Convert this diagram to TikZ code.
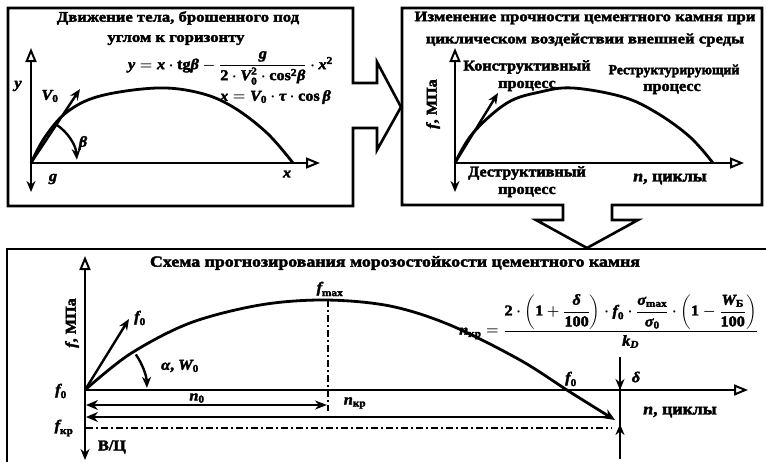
\documentclass[tikz,border=0pt]{standalone}
\usepackage{amsmath}
\usepackage{fontspec}
\setmainfont{Liberation Serif}[FakeStretch=1.08, BoldFeatures={FakeBold=2.5}, BoldItalicFeatures={FakeBold=2.5}]
\newfontfamily\headfont{Liberation Serif}[FakeStretch=1.15, BoldFeatures={FakeBold=2.5}]
\newfontfamily\narrowfont{Liberation Serif}[FakeStretch=0.98, BoldFeatures={FakeBold=2.5}]
\usetikzlibrary{arrows.meta}
% italic variable set in the text face
\newcommand{\mi}[1]{\text{\bfseries\itshape #1}}
\newcommand{\tx}[1]{\text{\bfseries #1}}
\tikzset{
  frame/.style={line width=2.6pt, line join=miter},
  axis/.style={line width=2.4pt},
  curve/.style={line width=2.8pt},
  openhead/.style={-{Triangle[open, length=14pt, width=11pt, line width=2pt]}},
  vec/.style={-{Stealth[length=11pt, width=9pt]}},
  lbl/.style={font=\bfseries\boldmath\fontsize{15}{16}\selectfont, inner sep=0pt},
  ttl/.style={font=\headfont\bfseries\fontsize{14.5}{16}\selectfont, inner sep=0pt},
  dashdot/.style={line width=2.2pt, dash pattern=on 7pt off 3pt on 2pt off 3pt}
}
\begin{document}
\begin{tikzpicture}[x=1pt, y=-1pt]
\useasboundingbox (0,0) rectangle (766,461);
\clip (0,0) rectangle (766,461);
\fill[white] (0,0) rectangle (766,461);

% ---------- panel 1: projectile motion, with its block arrow ----------
\draw[frame] (353,83) -- (377,83) -- (377,62) -- (401,107) -- (377,150) -- (377,128)
  -- (353,128) -- (353,206) -- (8,206) -- (8,8) -- (353,8) -- cycle;
\node[ttl] (t1a) at (178,18) {Движение тела, брошенного под};
\node[ttl] (t1b) at (176,40) {углом к горизонту};
\node[lbl, anchor=east, font=\bfseries\boldmath\fontsize{15}{16}\selectfont] (eq1) at (333,68)
  {$\mi{y} = \mi{x}\cdot \tx{tg}\mi{β} - \dfrac{\mi{g}}{\tx{2}\cdot \mi{V}_{\tx{0}}^{\tx{2}}\cdot \tx{cos}^{\tx{2}}\mi{β}}\cdot \mi{x}^{\tx{2}}$};
\node[lbl, anchor=east] (eq2) at (331,97) {$\mi{x} = \mi{V}_{\tx{0}}\cdot \mi{τ}\cdot \tx{cos}\,\mi{β}$};

\coordinate (o1) at (31,163);
\coordinate (y1) at (31,48);
\coordinate (g1) at (31,192);
\coordinate (x1) at (320,163);
\coordinate (v1) at (80,89);
\draw[axis, openhead] (o1) -- (y1);
\draw[axis, vec] (o1) -- (g1);
\draw[axis, openhead] (o1) -- (x1);
\draw[curve] plot[smooth, tension=0.6] coordinates
  {(31,163) (45,137) (67,112) (100,96) (157,88) (200,93) (233,107) (267,133) (293,163)};
\draw[axis, vec] (o1) -- (v1);
\draw[axis, vec] (o1) ++(-57:46) arc[start angle=-57, end angle=-4, radius=46];
\node[lbl] (ly1) at (18,86) {$\mi{y}$};
\node[lbl] (lv1) at (50,96) {$\mi{V}_{\tx{0}}$};
\node[lbl] (lb1) at (83,143) {$\mi{β}$};
\node[lbl] (lg1) at (53,179) {$\mi{g}$};
\node[lbl] (lx1) at (287,174) {$\mi{x}$};

% ---------- panel 2: strength of cement stone under cyclic action ----------
\draw[frame] (612,205) -- (612,220) -- (638,220) -- (587,248) -- (536,220) -- (563,220)
  -- (563,205) -- (402,205) -- (402,8) -- (762,8) -- (762,205) -- cycle;
\node[ttl] (t2a) at (585,18) {Изменение прочности цементного камня при};
\node[ttl] (t2b) at (585,40) {циклическом воздействии внешней среды};

\coordinate (o2) at (455,163);
\coordinate (y2) at (455,48);
\coordinate (d2) at (455,192);
\coordinate (x2) at (744,163);
\coordinate (v2) at (498,93);
\draw[axis, openhead] (o2) -- (y2);
\draw[axis, vec] (o2) -- (d2);
\draw[axis, openhead] (o2) -- (x2);
\draw[curve] plot[smooth, tension=0.6] coordinates
  {(455,163) (473,133) (507,103) (540,92) (573,88) (623,97) (657,113) (690,137) (713,163)};
\draw[axis, vec] (o2) -- (v2);
\node[lbl, rotate=90] (f2) at (433,104) {$\mi{f}$, МПа};
\node[lbl] (k2a) at (527,67) {Конструктивный};
\node[lbl] (k2b) at (527,86) {процесс};
\node[lbl, font=\narrowfont\bfseries\fontsize{14}{15}\selectfont] (r2a) at (674,71) {Реструктурирующий};
\node[lbl] (r2b) at (672,89) {процесс};
\node[lbl] (d2a) at (527,173) {Деструктивный};
\node[lbl] (d2b) at (527,192) {процесс};
\node[lbl, font=\bfseries\boldmath\fontsize{16.5}{17}\selectfont] (n2) at (670,179) {$\mi{n}$, циклы};

% ---------- panel 3: frost resistance forecast ----------
\draw[frame] (7,470) -- (7,249) -- (775,249);
\node[ttl, font=\headfont\bfseries\fontsize{15.5}{16}\selectfont] (t3) at (395,263)
  {Схема прогнозирования морозостойкости цементного камня};

\coordinate (o3) at (85,390);
\coordinate (y3) at (85,256);
\coordinate (d3) at (85,460);
\coordinate (x3) at (748,390);
\coordinate (v3) at (129,319);
\coordinate (m3) at (328,300);
\coordinate (m3b) at (328,411);
\draw[axis, openhead] (o3) -- (y3);
\draw[axis, vec] (o3) -- (d3);
\draw[axis, openhead] (o3) -- (x3);
\draw[curve, -{Stealth[length=12pt, width=10pt]}] plot[smooth, tension=0.55] coordinates
  {(85,390) (130,354) (190,323) (260,305) (325,300) (390,306) (450,325) (520,360) (570,392) (615,420)};
\draw[axis, vec] (o3) -- (v3);
\draw[axis, vec] (o3) ++(-35:62) arc[start angle=-35, end angle=-2, radius=62];
\draw[dashdot] (m3) -- (m3b);

% n0 and n_kr spans
\coordinate (a0) at (86,405);
\coordinate (b0) at (327,405);
\coordinate (a1) at (86,417);
\coordinate (b1) at (612,417);
\draw[axis, {Stealth[length=12pt, width=10pt]}-{Stealth[length=12pt, width=9pt]}] (a0) -- (b0);
\draw[axis, {Stealth[length=12pt, width=10pt]}-] (a1) -- (b1);
\coordinate (c1) at (86,428);
\coordinate (c2) at (612,428);
\draw[dashdot] (c1) -- (c2);

% delta pinch on the far right
\coordinate (p1) at (620,357);
\coordinate (p2) at (620,390);
\coordinate (p3) at (620,459);
\coordinate (p4) at (620,424);
\draw[axis] (p1) -- (p3);
\draw[axis, vec] (p1) -- (p2);
\draw[axis, vec] (p3) -- (p4);

\node[lbl, rotate=90] (f3) at (72,323) {$\mi{f}$, МПа};
\node[lbl] (f0a) at (61,391) {$\mi{f}_{\tx{0}}$};
\node[lbl] (f0v) at (140,318) {$\mi{f}_{\tx{0}}$};
\node[lbl] (aw) at (180,366) {$\mi{α}$, $\mi{W}_{\tx{0}}$};
\node[lbl] (fmax) at (330,289) {$\mi{f}_{\tx{max}}$};
\node[lbl] (n0) at (197,398) {$\mi{n}_{\tx{0}}$};
\node[lbl] (nkr) at (355,403) {$\mi{n}_{\tx{кр}}$};
\node[lbl] (fkr) at (64,428) {$\mi{f}_{\tx{кр}}$};
\node[lbl] (vc) at (112,447) {В/Ц};
\node[lbl] (f0b) at (571,379) {$\mi{f}_{\tx{0}}$};
\node[lbl] (dl) at (636,377) {$\mi{δ}$};
\node[lbl, font=\bfseries\boldmath\fontsize{16.5}{17}\selectfont] (n3) at (680,412) {$\mi{n}$, циклы};
\node[lbl, anchor=west] (eq3) at (459,321)
  {$\mi{n}_{\tx{кр}} = \dfrac{\tx{2}\cdot\left(\tx{1}+\dfrac{\mi{δ}}{\tx{100}}\right)\cdot \mi{f}_{\tx{0}}\cdot \dfrac{\mi{σ}_{\tx{max}}}{\mi{σ}_{\tx{0}}}\cdot\left(\tx{1}-\dfrac{\mi{W}_{\tx{Б}}}{\tx{100}}\right)}{\mi{k}_{\mi{D}}}$};
\end{tikzpicture}
\end{document}
